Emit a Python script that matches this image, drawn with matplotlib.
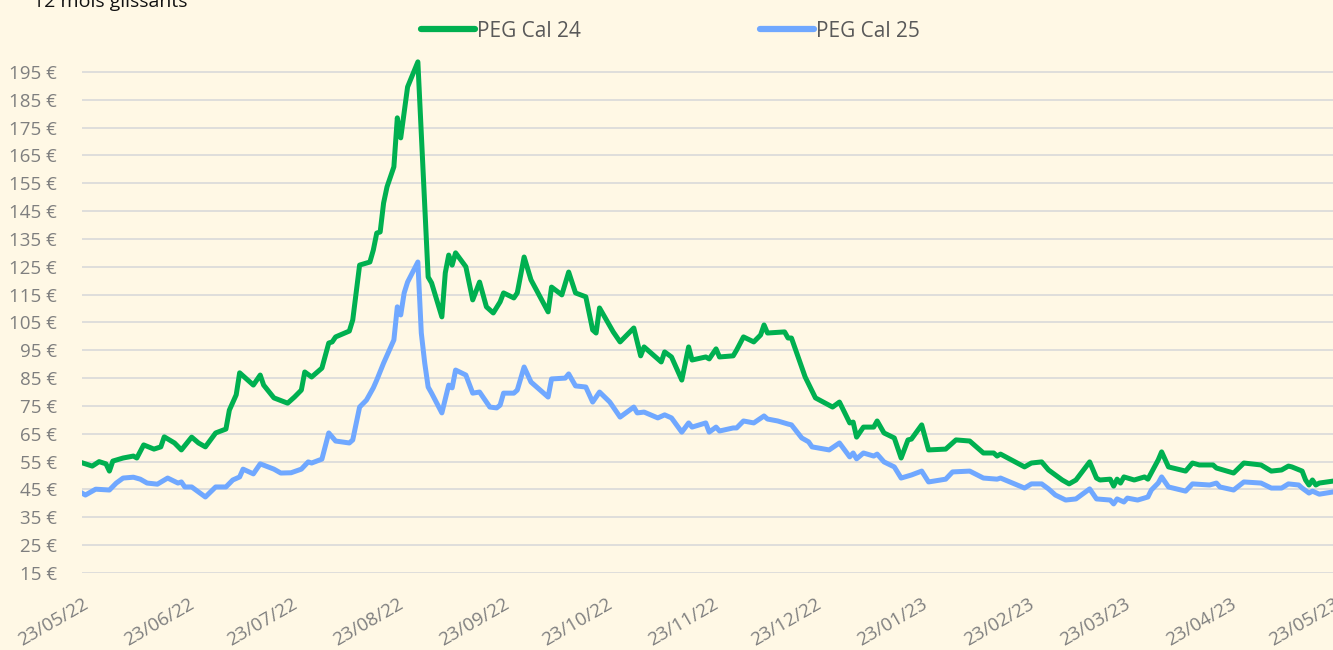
import matplotlib
matplotlib.use("Agg")
import matplotlib.pyplot as plt
from datetime import date, timedelta

plt.rcParams['font.family'] = ['Open Sans', 'DejaVu Sans']

debut = date(2022, 5, 23)

# PEG Cal 24 (jours depuis le 23/05/22, prix en EUR/MWh)
jours_24 = [0, 3, 5, 7, 8, 9, 12, 15, 16, 18, 21, 23, 24, 27, 29, 32, 34, 36, 39, 42,
            43, 45, 46, 50, 52, 53, 56, 60, 62, 64, 65, 67, 70, 72, 73, 74, 78, 79, 81, 84,
            85, 86, 87, 88, 89, 91, 92, 93, 95, 98, 101, 102, 105, 106, 107, 108, 109, 112, 114, 116,
            118, 120, 122, 123, 126, 127, 129, 131, 136, 137, 140, 142, 144, 147, 149, 150, 151, 153, 155, 157,
            161, 163, 164, 169, 170, 172, 175, 177, 178, 182, 183, 185, 186, 190, 191, 193, 196, 198, 199, 200,
            205, 206, 207, 211, 214, 219, 221, 224, 225, 226, 228, 231, 232, 234, 237, 239, 241, 242, 245, 247,
            252, 255, 259, 263, 266, 267, 268, 275, 277, 280, 282, 286, 288, 290, 294, 296, 297, 300, 301, 302,
            303, 304, 307, 310, 311, 314, 315, 317, 322, 324, 326, 330, 331, 336, 339, 344, 347, 350, 352, 353,
            356, 357, 358, 359, 360, 361, 365]
cal_24 = [54.6, 53.4, 55.0, 54.2, 51.6, 55.2, 56.3, 57.0, 56.3, 61.0, 59.5, 60.3, 63.9, 61.7, 59.2, 63.8, 61.7, 60.3, 65.3, 66.7,
          73.5, 79.0, 86.9, 82.5, 86.1, 82.5, 77.9, 76.0, 78.2, 80.7, 87.2, 85.4, 88.6, 97.6, 98.0, 99.8, 101.9, 105.9, 125.6, 126.7,
          131.0, 137.1, 137.5, 147.9, 153.7, 160.9, 178.5, 171.3, 189.6, 198.6, 121.3, 119.2, 107.0, 122.8, 129.2, 125.6, 130.0, 125.0, 113.1, 119.5,
          110.6, 108.4, 112.4, 115.6, 113.8, 115.6, 128.5, 120.3, 108.8, 117.7, 114.9, 123.1, 115.6, 114.2, 102.3, 101.2, 110.2, 105.9, 101.6, 98.0,
          103.0, 93.0, 96.2, 90.8, 94.4, 92.6, 84.3, 96.2, 91.5, 92.6, 91.9, 95.5, 92.6, 93.0, 95.1, 99.8, 98.0, 100.5, 104.1, 101.2,
          101.6, 99.4, 99.4, 85.4, 77.9, 74.6, 76.4, 68.9, 69.2, 63.8, 67.4, 67.4, 69.6, 65.3, 63.5, 56.3, 62.8, 63.1, 68.2, 59.2,
          59.5, 62.8, 62.4, 58.1, 58.1, 57.0, 57.7, 53.1, 54.5, 54.9, 52.0, 48.4, 47.0, 48.4, 54.9, 49.1, 48.4, 48.7, 46.2, 48.7,
          47.3, 49.5, 48.4, 49.5, 48.7, 55.6, 58.5, 53.1, 51.6, 54.5, 53.8, 53.8, 52.7, 50.9, 54.5, 53.8, 51.6, 52.0, 53.4, 53.1,
          51.6, 48.4, 46.6, 48.4, 46.6, 47.3, 48.0]

# PEG Cal 25
jours_25 = [0, 1, 4, 8, 10, 12, 15, 17, 19, 22, 25, 28, 29, 30, 32, 36, 39, 42, 44, 46,
            47, 50, 52, 56, 58, 61, 64, 66, 67, 70, 72, 74, 78, 79, 81, 83, 85, 86, 88, 91,
            92, 93, 94, 95, 98, 99, 100, 101, 102, 105, 107, 108, 109, 112, 114, 116, 119, 121, 122, 123,
            126, 127, 129, 131, 136, 137, 141, 142, 144, 147, 149, 151, 154, 157, 161, 162, 164, 168, 170, 172,
            175, 177, 178, 182, 183, 185, 186, 190, 191, 193, 196, 199, 200, 203, 206, 207, 210, 212, 213, 218,
            221, 224, 225, 226, 228, 231, 232, 234, 237, 239, 242, 245, 247, 252, 254, 259, 263, 267, 268, 275,
            277, 280, 282, 284, 287, 290, 294, 296, 300, 301, 302, 304, 305, 308, 311, 312, 314, 315, 317, 322,
            324, 329, 331, 332, 336, 339, 344, 347, 350, 352, 355, 356, 358, 359, 361, 365]
cal_25 = [43.7, 43.0, 45.1, 44.8, 47.3, 49.1, 49.4, 48.7, 47.3, 46.9, 49.1, 47.3, 47.7, 45.9, 45.9, 42.3, 45.9, 45.9, 48.4, 49.5,
          52.3, 50.6, 54.2, 52.3, 50.9, 51.0, 52.3, 54.9, 54.5, 55.9, 65.3, 62.4, 61.7, 62.8, 74.6, 77.1, 81.5, 84.3, 90.4, 98.7,
          110.6, 107.7, 115.6, 119.5, 126.7, 101.2, 90.4, 81.8, 79.6, 72.5, 82.5, 81.5, 87.9, 86.1, 79.6, 80.0, 74.6, 74.3, 75.3, 79.6,
          79.6, 80.7, 89.0, 83.6, 78.2, 84.7, 85.0, 86.5, 82.2, 81.8, 76.4, 80.0, 76.4, 71.0, 74.6, 72.5, 72.8, 70.7, 71.8, 70.7,
          65.6, 68.9, 67.4, 68.9, 65.6, 67.4, 66.0, 67.1, 67.1, 69.6, 68.9, 71.4, 70.3, 69.6, 68.5, 68.2, 63.5, 62.1, 60.3, 59.2,
          61.7, 56.7, 58.1, 56.0, 58.1, 57.0, 57.7, 54.9, 53.1, 49.1, 50.2, 51.6, 47.7, 48.7, 51.3, 51.6, 49.1, 48.7, 49.1, 45.5,
          47.0, 47.0, 45.2, 43.0, 41.2, 41.6, 45.2, 41.6, 41.2, 39.8, 41.6, 40.5, 41.9, 41.2, 42.3, 44.8, 47.3, 49.5, 45.9, 44.4,
          47.0, 46.6, 47.3, 45.9, 44.8, 47.7, 47.3, 45.5, 45.5, 47.0, 46.6, 45.5, 43.7, 44.4, 43.3, 44.1]

etiquettes = ['23/05/22', '23/06/22', '23/07/22', '23/08/22', '23/09/22', '23/10/22', '23/11/22',
              '23/12/22', '23/01/23', '23/02/23', '23/03/23', '23/04/23', '23/05/23']

fond = '#FFF8E5'
dates_24 = [debut + timedelta(days=j) for j in jours_24]
dates_25 = [debut + timedelta(days=j) for j in jours_25]
dates_ticks = [date(int('20' + e[6:]), int(e[3:5]), 23) for e in etiquettes]

fig = plt.figure(figsize=(13.33, 6.5), dpi=100, facecolor=fond)
ax = fig.add_axes([0.0615, 0.1185, 0.9385, 0.7923], facecolor=fond)

ax.plot(dates_24, cal_24, color='#00B050', lw=3.6, label='PEG Cal 24', solid_joinstyle='round')
ax.plot(dates_25, cal_25, color='#70A8FF', lw=3.6, label='PEG Cal 25', solid_joinstyle='round')

ax.set_xlim(debut, debut + timedelta(days=365))
ax.set_ylim(15, 200)
ax.set_yticks(range(15, 200, 10))
ax.set_yticklabels([f'{v} €' for v in range(15, 200, 10)])
ax.grid(axis='y', color='#D9D9D9', lw=1.2)
ax.set_axisbelow(True)
ax.set_xticks(dates_ticks)
ax.set_xticklabels(etiquettes, rotation=30, ha='right', va='top', rotation_mode='anchor')
ax.tick_params(axis='y', length=0, pad=18, labelsize=13.5, labelcolor='#7F7F7F')
ax.tick_params(axis='x', length=0, pad=16, labelsize=13.5, labelcolor='#7F7F7F')
for s in ax.spines.values():
    s.set_visible(False)

fig.text(0.025, 0.989, '12 mois glissants', fontsize=14, color='#111111', va='baseline', ha='left')
leg = fig.legend(loc='upper center', bbox_to_anchor=(0.503, 0.997), ncol=2, frameon=False,
                 fontsize=15, labelcolor='#595959', handlelength=2.6, handletextpad=0.1,
                 columnspacing=8.6)
for h in leg.get_lines():
    h.set_linewidth(4.5)
    h.set_solid_capstyle('round')

fig.savefig('out.png', dpi=100, facecolor=fond)
